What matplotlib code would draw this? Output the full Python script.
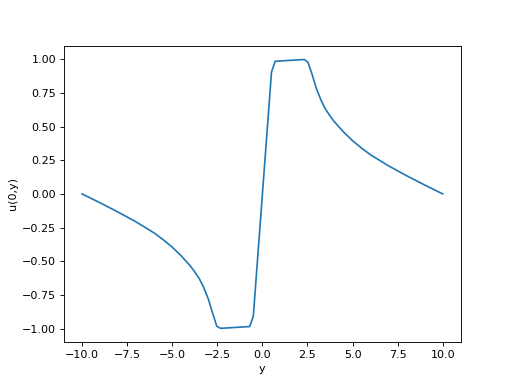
import matplotlib
matplotlib.use("Agg")
import matplotlib.pyplot as plt

y_vals = [-10, -9, -8, -7, -6, -5.5, -5, -4.5, -4, -3.75, -3.5, -3.25, -3, -2.75, -2.525, -2.323,
          -0.707, -0.505, 0.505, 0.707, 2.323, 2.525, 2.75, 3, 3.25, 3.5, 3.75, 4,
          4.5, 5, 5.5, 6, 7, 8, 9, 10]
u_vals = [0.0, -0.066, -0.135, -0.208, -0.29, -0.34, -0.395, -0.46, -0.534, -0.579, -0.629, -0.696, -0.78, -0.89, -0.983, -0.998,
          -0.985, -0.91, 0.905, 0.985, 0.998, 0.978, 0.89, 0.78, 0.696, 0.629, 0.579, 0.534,
          0.46, 0.395, 0.34, 0.29, 0.208, 0.135, 0.066, 0.0]

fig = plt.figure(figsize=(6.4, 4.8), dpi=80)
plt.plot(y_vals, u_vals)
plt.xlabel('y')
plt.ylabel('u(0,y)')
plt.savefig('out.png')
